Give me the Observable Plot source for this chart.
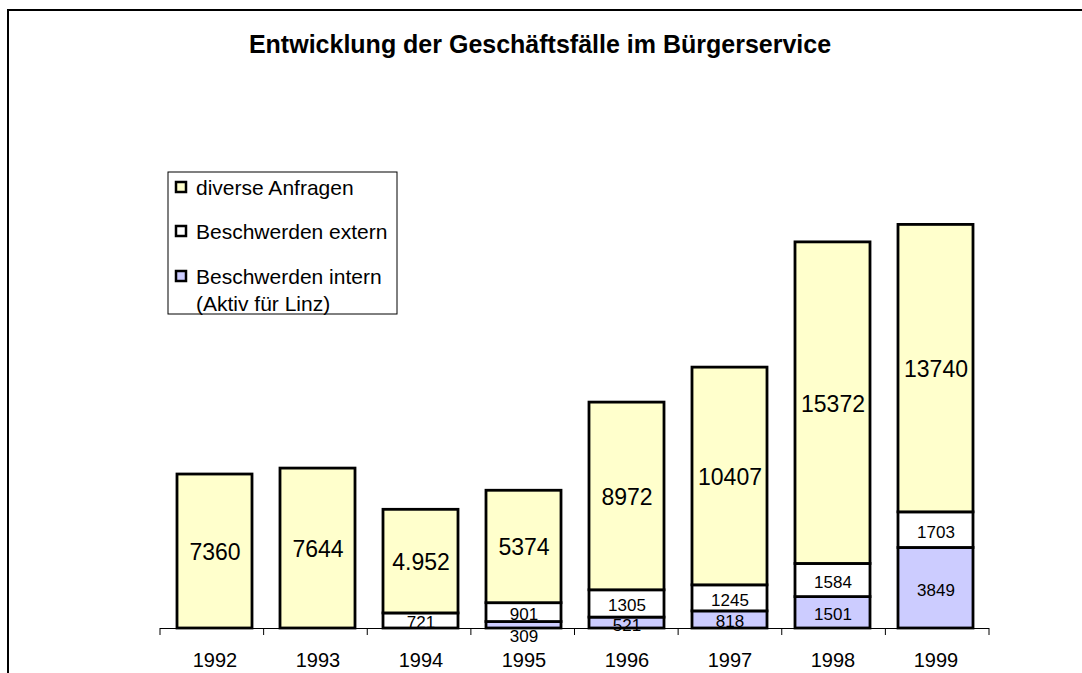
<!DOCTYPE html>
<html>
<head>
<meta charset="utf-8">
<script src="https://cdn.jsdelivr.net/npm/d3@7"></script>
<script src="https://cdn.jsdelivr.net/npm/@observablehq/plot@0.6"></script>
<style>
  html, body { margin: 0; padding: 0; background: #fff; }
  #chart svg { display: block; }
</style>
</head>
<body>
<div id="chart"></div>
<script>
const title = "Entwicklung der Geschäftsfälle im Bürgerservice";
const years = ["1992", "1993", "1994", "1995", "1996", "1997", "1998", "1999"];
const intern = [0, 0, 0, 309, 521, 818, 1501, 3849];
const extern = [0, 0, 721, 901, 1305, 1245, 1584, 1703];
const anfragen = [7360, 7644, 4952, 5374, 8972, 10407, 15372, 13740];
const anfragenLabels = ["7360", "7644", "4.952", "5374", "8972", "10407", "15372", "13740"];
const series = ["Beschwerden intern", "Beschwerden extern", "diverse Anfragen"];
const colors = ["#CCCCFF", "#FFFFFF", "#FFFFCC"];
const legendItems = ["diverse Anfragen", "Beschwerden extern", "Beschwerden intern"];
const legendColors = ["#FFFFCC", "#FFFFFF", "#CCCCFF"];
const legendExtra = "(Aktiv für Linz)";

const rows = [];
years.forEach((year, i) => {
  const vals = [intern[i], extern[i], anfragen[i]];
  const labs = [String(intern[i]), String(extern[i]), anfragenLabels[i]];
  series.forEach((s, j) => {
    if (vals[j] > 0) rows.push({year, series: s, value: vals[j], label: labs[j]});
  });
});

const W = 1082, H = 673, ML = 160, MR = 93, MT = 105, MB = 45;

const plot = Plot.plot({
  width: W, height: H,
  marginLeft: ML, marginRight: MR, marginTop: MT, marginBottom: MB,
  style: {fontFamily: "'Liberation Sans', Arial, sans-serif", background: "white", color: "black", overflow: "visible"},
  x: {domain: years, paddingInner: 0.276, paddingOuter: 0.138},
  y: {domain: [0, 25000], axis: null},
  color: {domain: series, range: colors},
  marks: [
    Plot.barY(rows, {x: "year", y: "value", fill: "series", stroke: "black", strokeWidth: 2.8}),
    Plot.text(rows, Plot.stackY({x: "year", y: "value",
      text: d => d.series === "diverse Anfragen" ? d.label : "", fontSize: 23, dy: 1, fill: "black"})),
    Plot.text(rows, Plot.stackY({x: "year", y: "value",
      text: d => d.series !== "diverse Anfragen" && d.value >= 400 ? d.label : "", fontSize: 17, dy: 2, fill: "black"})),
    Plot.text(rows, Plot.stackY({x: "year", y: "value",
      text: d => d.series !== "diverse Anfragen" && d.value < 400 ? d.label : "", fontSize: 17, dy: 11, fill: "black"})),
    Plot.ruleY([0], {stroke: "black", strokeWidth: 1}),
    Plot.axisX({tickSize: 0, tickPadding: 24, fontSize: 20, fill: "black", label: null})
  ]
});

document.getElementById("chart").appendChild(plot);

const svg = d3.select(plot);
const sy = plot.scale("y");
const step = (W - ML - MR) / years.length;
const y0 = sy.apply(0);

// boundary tick marks of the category axis
const bounds = years.map((y, i) => ML + i * step).concat([ML + years.length * step]);
svg.append("g").selectAll("line").data(bounds).join("line")
  .attr("x1", d => d).attr("x2", d => d)
  .attr("y1", y0).attr("y2", y0 + 7)
  .attr("stroke", "black").attr("stroke-width", 1);

// outer frame (top and left edges visible)
svg.append("path")
  .attr("d", `M8,${H + 5} V10 H${W + 5}`)
  .attr("fill", "none").attr("stroke", "black").attr("stroke-width", 2);

// title
svg.append("text")
  .attr("x", 540).attr("y", 53)
  .attr("text-anchor", "middle")
  .attr("font-size", 25).attr("font-weight", "bold")
  .attr("fill", "black")
  .text(title);

// legend
const lg = svg.append("g").attr("font-size", 21).attr("text-anchor", "start");
lg.append("rect").attr("x", 168).attr("y", 172).attr("width", 229).attr("height", 142)
  .attr("fill", "white").attr("stroke", "black").attr("stroke-width", 1);
const rowY = [187, 231, 276];
legendItems.forEach((name, i) => {
  lg.append("rect").attr("x", 176).attr("y", rowY[i] - 5).attr("width", 10).attr("height", 10)
    .attr("fill", legendColors[i]).attr("stroke", "black").attr("stroke-width", 2.5);
  lg.append("text").attr("x", 196).attr("y", rowY[i] + 8).attr("fill", "black").text(name);
});
lg.append("text").attr("x", 196).attr("y", 311).attr("fill", "black").text(legendExtra);
</script>
</body>
</html>
